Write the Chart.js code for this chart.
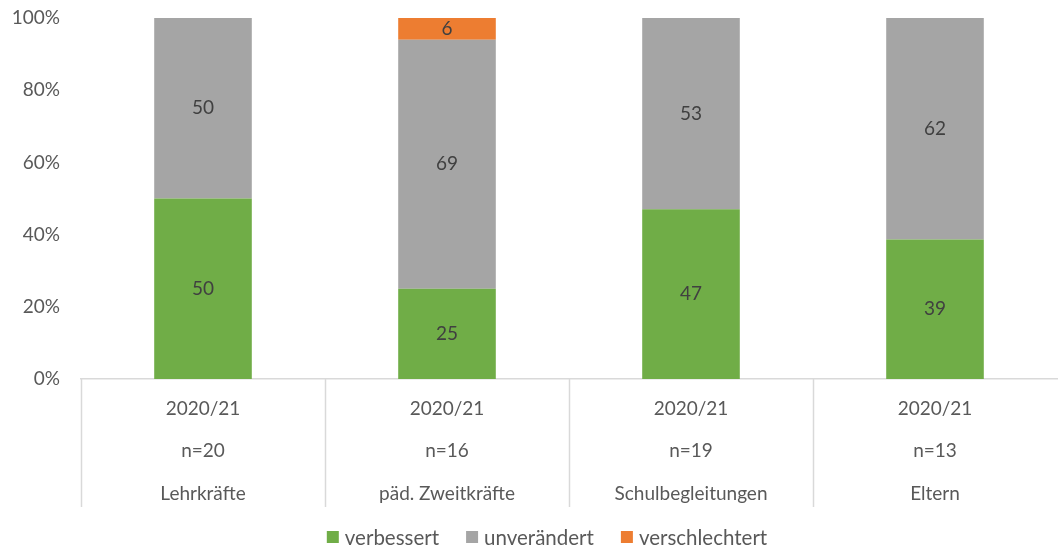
<!DOCTYPE html>
<html><head><meta charset="utf-8">
<script src="https://cdn.jsdelivr.net/npm/chart.js@4/dist/chart.umd.min.js"></script>
<style>html,body{margin:0;padding:0;background:#fff}#wrap{width:1059px;height:549px}</style>
</head><body><div id="wrap"><canvas id="c" width="1059" height="549"></canvas></div>
<script>
const categories = [["2020/21","n=20","Lehrkräfte"],["2020/21","n=16","päd. Zweitkräfte"],["2020/21","n=19","Schulbegleitungen"],["2020/21","n=13","Eltern"]];
const verbessert = [50, 25, 47, 39];
const unveraendert = [50, 69, 53, 62];
const verschlechtert = [0, 6, 0, 0];
const yTicks = [0, 20, 40, 60, 80, 100];

const totals = verbessert.map((v,i)=>v+unveraendert[i]+verschlechtert[i]);
const pct = arr => arr.map((v,i)=>v/totals[i]*100);
const raw = [verbessert, unveraendert, verschlechtert];

const FONT = "Lato, 'Open Sans', sans-serif";

const labelPlugin = {
  id:'labels',
  afterDatasetsDraw(chart){
    const ctx = chart.ctx;
    ctx.save();
    ctx.font = "19px " + FONT;
    ctx.fillStyle = "#404040";
    ctx.textAlign = "center";
    ctx.textBaseline = "middle";
    chart.data.datasets.forEach((ds, di)=>{
      const meta = chart.getDatasetMeta(di);
      meta.data.forEach((el, i)=>{
        const v = raw[di][i];
        if (!v) return;
        const y = (el.y + el.base)/2;
        ctx.fillText(String(v), el.x, y);
      });
    });
    ctx.restore();
  }
};

const sepPlugin = {
  id:'seps',
  afterDraw(chart){
    const x = chart.scales.x, ctx = chart.ctx;
    const top = chart.chartArea.bottom, bottom = top + 128;
    ctx.save();
    ctx.strokeStyle = "#d9d9d9";
    ctx.lineWidth = 1.5;
    const xs = [x.left];
    for (let i=1;i<categories.length;i++) xs.push((x.getPixelForValue(i-1)+x.getPixelForValue(i))/2);
    xs.forEach(px=>{
      ctx.beginPath(); ctx.moveTo(Math.round(px)+0.5, top); ctx.lineTo(Math.round(px)+0.5, bottom); ctx.stroke();
    });
    ctx.restore();
  }
};

const legendPlugin = {
  id:'customLegend',
  afterDraw(chart){
    const ctx = chart.ctx;
    ctx.save();
    ctx.font = "20.5px " + FONT;
    ctx.textBaseline = "middle";
    ctx.textAlign = "left";
    const box = 12, gap = 6, itemGap = 27;
    const items = chart.data.datasets.map(d=>({t:d.label, c:d.backgroundColor, w:ctx.measureText(d.label).width}));
    const total = items.reduce((s,it)=>s+box+gap+it.w,0) + itemGap*(items.length-1);
    let x = 547 - total/2;
    const y = 537;
    items.forEach(it=>{
      ctx.fillStyle = it.c;
      ctx.fillRect(x, y - box/2, box, box);
      ctx.fillStyle = "#595959";
      ctx.fillText(it.t, x + box + gap, y + 1);
      x += box + gap + it.w + itemGap;
    });
    ctx.restore();
  }
};

new Chart(document.getElementById('c'), {
  type:'bar',
  data:{
    labels: categories,
    datasets:[
      {label:'verbessert', data:pct(verbessert), backgroundColor:'#70AD47'},
      {label:'unverändert', data:pct(unveraendert), backgroundColor:'#A5A5A5'},
      {label:'verschlechtert', data:pct(verschlechtert), backgroundColor:'#ED7D31'}
    ]
  },
  options:{
    responsive:false, animation:false,
    layout:{padding:{top:18, right:2, left:0, bottom:42}},
    datasets:{bar:{barPercentage:0.4, categoryPercentage:1}},
    scales:{
      x:{stacked:true,
        grid:{display:false, drawTicks:false},
        border:{display:true, color:'#d9d9d9', width:1.5},
        ticks:{color:'#595959', font:{family:FONT, size:19, lineHeight:2.22}, padding:9, maxRotation:0, autoSkip:false},
        afterFit(s){ s.height = 128; s.paddingLeft = 0; s.paddingRight = 0; }
      },
      y:{stacked:true, min:0, max:100,
        grid:{display:false, drawTicks:false},
        border:{display:false},
        afterBuildTicks(s){ s.ticks = yTicks.map(v=>({value:v})); },
        ticks:{color:'#595959', font:{family:FONT, size:19}, padding:21, callback:v=>v+'%'},
        afterFit(s){ s.width = 81; s.paddingTop = 0; s.paddingBottom = 0; }
      }
    },
    plugins:{
      legend:{display:false},
      tooltip:{enabled:false}
    }
  },
  plugins:[labelPlugin, sepPlugin, legendPlugin]
});
</script></body></html>
